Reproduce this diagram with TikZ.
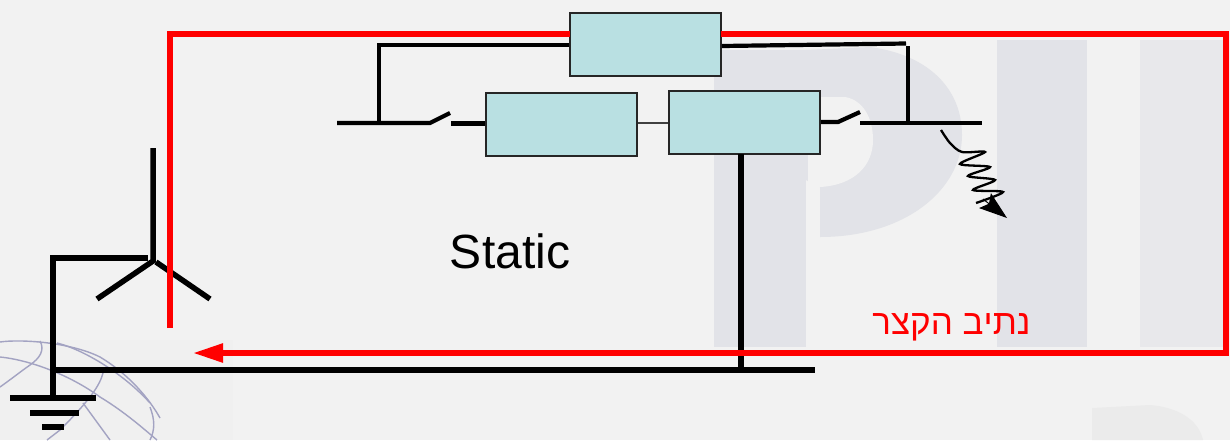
\documentclass[tikz,border=0pt]{standalone}
\usepackage{fontspec}
\setmainfont{Liberation Sans}
\TeXXeTstate=1
\usetikzlibrary{arrows.meta}

\definecolor{paper}{HTML}{F2F2F2}
\definecolor{wmark}{HTML}{E2E3E8}
\definecolor{wmarkpale}{HTML}{E8E8EB}
\definecolor{globe}{HTML}{A3A3C2}
\definecolor{cyanbox}{HTML}{B9E0E2}

\tikzset{
  box/.style={draw=black!85, line width=1.8pt, fill=cyanbox, inner sep=0pt, minimum width=151pt, minimum height=63pt},
  wire/.style={line width=4.2pt, black},
  thinwire/.style={line width=2pt, black!75},
  heavywire/.style={line width=5.5pt, black},
  redpath/.style={line width=5.5pt, red, line join=miter},
  globeline/.style={line width=1.4pt, globe}
}

\begin{document}
\begin{tikzpicture}[x=1pt,y=-1pt]

\useasboundingbox (0,0) rectangle (1230,440);
\fill[paper] (0,0) rectangle (1230,440);
\fill[black!1!paper] (0,340) rectangle (233,440);

\fill[wmark] (714,50) rectangle (806,347);
\fill[wmark] (806,50) -- (870,47) .. controls (930,55) and (962,90) .. (962,135) .. controls (962,190) and (905,237) .. (820,237) -- (820,187) -- (806,180) -- cycle;
\fill[paper] (808,97) -- (845,97) .. controls (863,100) and (873,118) .. (873,140) .. controls (873,165) and (855,185) .. (820,187) -- (808,187) -- cycle;
\fill[wmark] (997,40) rectangle (1087,347);
\fill[wmarkpale] (1140,40) rectangle (1226,347);
\fill[black!3!paper] (1092,440) -- (1092,408) -- (1150,405) .. controls (1185,408) and (1200,425) .. (1203,440) -- cycle;

\draw[globeline] (0,342) .. controls (20,339) and (70,342) .. (100,357) .. controls (130,375) and (150,400) .. (160,418);
\draw[globeline] (0,357) .. controls (30,360) and (70,375) .. (100,397) .. controls (125,412) and (145,430) .. (157,440);
\draw[globeline] (57,343) .. controls (85,350) and (125,375) .. (150,403);
\draw[globeline] (40,341) .. controls (45,350) and (40,358) .. (30,365) .. controls (20,372) and (10,380) .. (0,387);
\draw[globeline] (103,373) .. controls (100,385) and (90,400) .. (60,430) -- (47,440);
\draw[globeline] (83,403) -- (110,440);
\draw[globeline] (150,407) .. controls (155,420) and (155,430) .. (150,440);

\node[box] (B_1) at (645.5,44.5) {};
\node[box] (B_2) at (561.5,124.5) {};
\node[box] (B_3) at (744.5,122.5) {};

\coordinate (L_1) at (337,123);
\coordinate (L_2) at (379,123);
\coordinate (L_3) at (430,123);
\coordinate (L_4) at (450,113);
\coordinate (L_5) at (451,123.5);
\coordinate (L_6) at (379,45);
\coordinate (P_1) at (838,122);
\coordinate (P_2) at (860,112);
\coordinate (P_3) at (860,123);
\coordinate (P_4) at (982,123);
\coordinate (P_5) at (908,123);
\coordinate (P_6) at (908,46);
\coordinate (P_7) at (906,43.5);
\coordinate (Q_1) at (741,154);
\coordinate (Q_2) at (741,370);
\coordinate (Q_3) at (815,370);
\coordinate (G_1) at (53,370);
\coordinate (G_2) at (53,398);
\coordinate (G_3) at (53,258);
\coordinate (G_4) at (148,258);
\coordinate (W_1) at (153,148);
\coordinate (W_2) at (153,261);
\coordinate (W_3) at (97,299);
\coordinate (W_4) at (156,262);
\coordinate (W_5) at (210,299);
\coordinate (E_1) at (10,398);
\coordinate (E_2) at (96,398);
\coordinate (E_3) at (30,413);
\coordinate (E_4) at (79,413);
\coordinate (E_5) at (42,427);
\coordinate (E_6) at (64,427);
\coordinate (R_1) at (170,328);
\coordinate (R_2) at (570,34);
\coordinate (R_3) at (721,34);
\coordinate (R_4) at (1226,34);
\coordinate (R_5) at (1226,353);
\coordinate (R_6) at (193,353);
\coordinate (S_1) at (983,199);
\coordinate (S_2) at (1007,218);

\draw[wire] (L_1) -- (L_3) -- (L_4);
\draw[wire] (L_5) -- (B_2.west |- L_5);
\draw[wire] (L_2) -- (L_6) -- (B_1.west |- L_6);
\draw[thinwire] (B_2.east |- B_3.west) -- (B_3.west);
\draw[wire] (B_3.east |- P_1) -- (P_1) -- (P_2);
\draw[wire] (P_3) -- (P_4);
\draw[wire] (P_5) -- (P_6);
\draw[wire] (B_1.east |- 0,46) -- (P_7);

\draw[heavywire] (Q_1) -- (Q_2);
\draw[heavywire] (G_1) -- (Q_3);
\draw[heavywire] (G_2) -- (G_3) -- (G_4);
\draw[heavywire] (W_1) -- (W_2) -- (W_3);
\draw[heavywire] (W_4) -- (W_5);
\draw[heavywire] (E_1) -- (E_2);
\draw[heavywire] (E_3) -- (E_4);
\draw[heavywire] (E_5) -- (E_6);

\draw[line width=2.3pt] plot[smooth,tension=0.5] coordinates {(941,130) (950,143) (962,152) (985,152) (960,164) (990,167) (968,176) (995,180) (973,190) (1003,192) (976,203)};
\draw[line width=1pt,-{Stealth[length=28pt,width=19pt,inset=5pt]}] (S_1) -- (S_2);

\draw[redpath] (R_1) |- (R_2);
\draw[redpath,-{Triangle[length=30pt,width=18pt]}] (R_3) -- (R_4) -- (R_5) -- (R_6);

\node[font=\fontsize{48}{50}\selectfont, inner sep=0pt] (T_1) at (510,251) {Static};
\node[font=\fontsize{35}{38}\selectfont, text=red, inner sep=0pt] (T_2) at (951.5,327) {\beginR נתיב הקצר\endR};

\end{tikzpicture}
\end{document}
